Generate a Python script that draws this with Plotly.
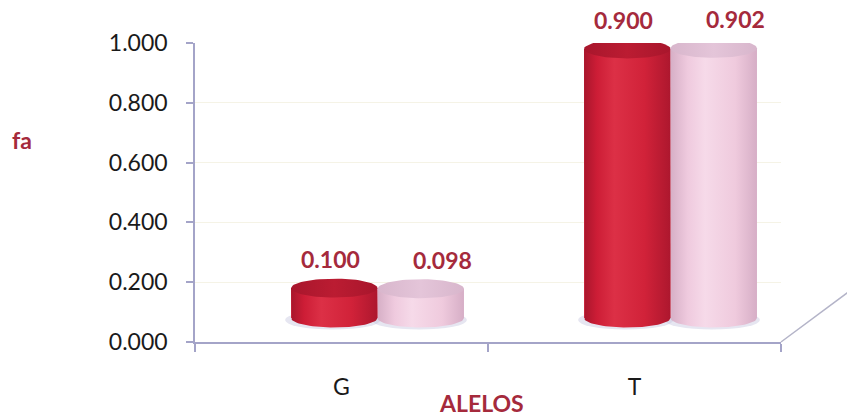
import numpy as np
import plotly.graph_objects as go

# Allele frequencies (fa) for the two groups
alleles = ["G", "T"]
group_a = [0.100, 0.900]
group_b = [0.098, 0.902]
y_ticks = [0.0, 0.2, 0.4, 0.6, 0.8, 1.0]
y_tick_labels = ["0.000", "0.200", "0.400", "0.600", "0.800", "1.000"]

W, H = 847, 419
M_L, M_R, M_T, M_B = 195, 66, 43, 77
plot_w = W - M_L - M_R
plot_h = H - M_T - M_B
px_per_cat = plot_w / 2.0
px_per_unit = plot_h / 1.0

# depth offset of the cylinders relative to the front axes
depth_dx = 36 / px_per_cat
depth_dy = 24 / px_per_unit

bargap = 0.41
bar_w = (1 - bargap) / 2
cap_h = 9.5 / px_per_unit

LABEL_RED = "#a52a3c"
FONT = "Lato, 'Open Sans', sans-serif"
TICK_SIZE = 23
LABEL_SIZE = 23

series = [
    dict(name="A", values=group_a, offset=-bar_w / 2, base="#d2223a",
         body=[[0, "#a8162c"], [0.15, "#cd1d36"], [0.35, "#dc3046"],
               [0.7, "#d12239"], [1, "#ad172e"]],
         cap=[[0, "#a8162c"], [0.5, "#bb1c32"], [1, "#a8162c"]],
         label_dx=-4),
    dict(name="B", values=group_b, offset=bar_w / 2, base="#efcbdf",
         body=[[0, "#d6afc6"], [0.2, "#efcade"], [0.4, "#f6dae9"],
               [0.75, "#efcadd"], [1, "#d6aec6"]],
         cap=[[0, "#d8b6cc"], [0.5, "#e4c5d9"], [1, "#d8b6cc"]],
         label_dx=22),
]

fig = go.Figure()

# category axis carrier (front axes)
fig.add_trace(go.Scatter(x=alleles, y=[0, 0], mode="none", showlegend=False,
                         hoverinfo="skip", xaxis="x", yaxis="y"))

theta = np.linspace(0, 2 * np.pi, 73)
lower = np.linspace(np.pi, 2 * np.pi, 37)

# soft floor shadows under each cylinder
shapes = []
for s in series:
    for i, v in enumerate(s["values"]):
        xc = i + s["offset"]
        shapes.append(dict(type="circle", xref="x2", yref="y2", layer="below",
                           x0=xc - bar_w / 2 - 6 / px_per_cat, x1=xc + bar_w / 2 + 3 / px_per_cat,
                           y0=-cap_h - 2 / px_per_unit, y1=cap_h - 2 / px_per_unit,
                           fillcolor="rgba(200,200,225,0.45)", line=dict(width=0)))

# cylinder bodies as bars
for s in series:
    fig.add_trace(go.Bar(x=[0, 1], y=s["values"], name=s["name"], xaxis="x2", yaxis="y2",
                         marker=dict(color=s["base"], line=dict(width=0)),
                         showlegend=False, hoverinfo="skip"))

# shaded cylinder surfaces and caps
for s in series:
    for i, v in enumerate(s["values"]):
        xc = i + s["offset"]
        hw = bar_w / 2
        bx = [xc - hw, xc - hw] + list(xc + hw * np.cos(lower)) + [xc + hw, xc - hw]
        by = [v, 0] + list(-cap_h * np.abs(np.sin(lower))) + [v, v]
        fig.add_trace(go.Scatter(x=bx, y=by, mode="lines", fill="toself",
                                 line=dict(width=0, color=s["base"]),
                                 fillgradient=dict(type="horizontal", colorscale=s["body"]),
                                 xaxis="x2", yaxis="y2", showlegend=False, hoverinfo="skip"))
        cx = xc + hw * np.cos(theta)
        cy = v + cap_h * np.sin(theta)
        fig.add_trace(go.Scatter(x=cx, y=cy, mode="lines", fill="toself",
                                 line=dict(width=0, color=s["base"]),
                                 fillgradient=dict(type="horizontal", colorscale=s["cap"]),
                                 xaxis="x2", yaxis="y2", showlegend=False, hoverinfo="skip"))

# value labels
annotations = []
for s in series:
    for i, v in enumerate(s["values"]):
        annotations.append(dict(x=i + s["offset"], y=v, xref="x2", yref="y2",
                                text=f"<b>{v:.3f}</b>", showarrow=False,
                                xshift=s["label_dx"], yshift=29,
                                font=dict(family=FONT, size=LABEL_SIZE, color=LABEL_RED)))

# axis titles
annotations.append(dict(x=(22 - M_L) / plot_w, y=(H - M_B - 140) / plot_h,
                        xref="paper", yref="paper", xanchor="center", yanchor="middle",
                        showarrow=False, text="<b>fa</b>",
                        font=dict(family=FONT, size=LABEL_SIZE, color=LABEL_RED)))
annotations.append(dict(x=(481 - M_L) / plot_w, y=-(403 - (H - M_B)) / plot_h,
                        xref="paper", yref="paper", xanchor="center", yanchor="middle",
                        showarrow=False, text="<b>ALELOS</b>",
                        font=dict(family=FONT, size=LABEL_SIZE, color=LABEL_RED)))

AXIS_COL = "#a4a4c8"
# floor edge receding to the back wall
shapes.append(dict(type="line", xref="paper", yref="paper", x0=1, y0=0,
                   x1=1 + 70 / plot_w, y1=52 / plot_h, line=dict(color="#b4b4c8", width=1.5)))

fig.update_layout(
    width=W, height=H,
    margin=dict(l=M_L, r=M_R, t=M_T, b=M_B),
    paper_bgcolor="white", plot_bgcolor="white",
    barmode="group", bargap=bargap, bargroupgap=0,
    showlegend=False,
    xaxis=dict(type="category", categoryarray=alleles, range=[-0.5, 1.5],
               showline=True, linecolor=AXIS_COL, linewidth=1.5,
               ticks="outside", tickson="boundaries", ticklen=8, tickcolor=AXIS_COL,
               tickwidth=1.5, ticklabelstandoff=24,
               tickfont=dict(family=FONT, size=TICK_SIZE, color="#1a1a1a"),
               showgrid=False, zeroline=False, fixedrange=True),
    yaxis=dict(range=[0, 1.0], tickvals=y_ticks, ticktext=y_tick_labels,
               showline=True, linecolor=AXIS_COL, linewidth=1.5,
               ticks="outside", ticklen=7, tickcolor=AXIS_COL, tickwidth=1.5,
               ticklabelstandoff=14,
               tickfont=dict(family=FONT, size=TICK_SIZE, color="#1a1a1a"),
               showgrid=True, gridcolor="#f5f3e6", gridwidth=1, zeroline=False,
               fixedrange=True),
    xaxis2=dict(overlaying="x", range=[-0.5 - depth_dx, 1.5 - depth_dx], visible=False,
                fixedrange=True),
    yaxis2=dict(overlaying="y", range=[-depth_dy, 1.0 - depth_dy], visible=False,
                fixedrange=True),
    shapes=shapes,
    annotations=annotations,
)

fig.write_html("out.html")
